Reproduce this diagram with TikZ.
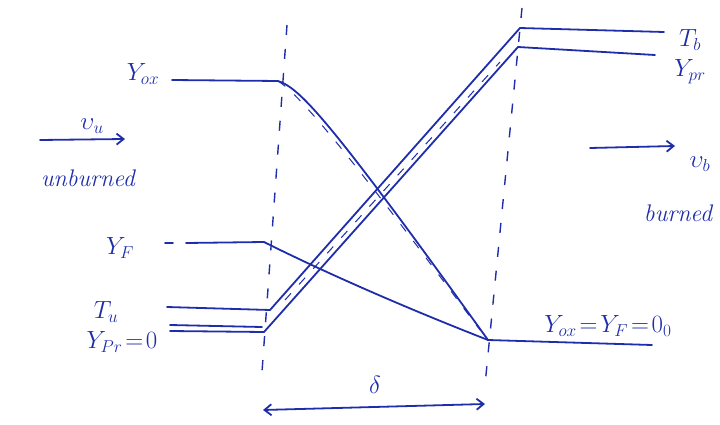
\documentclass[tikz,border=0pt]{standalone}
\usetikzlibrary{arrows.meta}
\definecolor{ink}{RGB}{30,45,170}
\begin{document}
\begin{tikzpicture}[x=1pt,y=-1pt,
  pen/.style={draw=ink,line width=1.8pt,line cap=round,line join=round},
  guide/.style={draw=ink,line width=1.4pt,dash pattern=on 10pt off 14pt},
  faint/.style={draw=ink,line width=1pt,dash pattern=on 9pt off 12pt},
  lbl/.style={text=ink,font=\fontsize{26}{28}\selectfont,inner sep=1pt},
  word/.style={text=ink,font=\fontsize{24}{26}\selectfont\itshape,inner sep=1pt},
  arr/.style={pen,-{Straight Barb[length=7pt,width=11pt]}}]
\useasboundingbox (0,0) rectangle (720,425);
% boundaries of the flame zone
\coordinate (L1) at (287,25); \coordinate (L2) at (262,372);
\coordinate (R1) at (522,8);  \coordinate (R2) at (485,385);
\draw[guide] (L1) -- (L2);
\draw[guide] (R1) -- (R2);
% key points
\coordinate (ox0) at (172,80);  \coordinate (ox1) at (278,81);
\coordinate (f0)  at (186,243); \coordinate (f1)  at (264,242);
\coordinate (tu0) at (167,307); \coordinate (tu1) at (270,310);
\coordinate (pr0) at (170,331); \coordinate (pr1) at (264,332);
\coordinate (tb1) at (520,28);  \coordinate (tb2) at (664,32);
\coordinate (pb1) at (518,47);  \coordinate (pb2) at (655,55);
\coordinate (z0)  at (488,340); \coordinate (z1)  at (652,345);
% profiles
\draw[pen] (ox0) -- (ox1) .. controls (300,88) and (330,120) .. (z0);
\draw[pen] (165,243) -- (173,243);
\draw[pen] (f0) -- (f1) .. controls (280,250) and (360,290) .. (z0);
\draw[pen] (z0) -- (z1);
\draw[pen] (tu0) -- (tu1) -- (tb1) -- (tb2);
\draw[pen] (pr0) -- (pr1) -- (pb1) -- (pb2);
\draw[pen] (170,325) -- (262,327);
% real (smoothed) profiles, dashed
\draw[faint] (ox1) .. controls (310,100) and (420,250) .. (480,330);
\draw[faint] (285,300) -- (500,62);
% labels
\node[lbl] (Yox) at (143,74) {$Y_{ox}$};
\node[lbl] (vu)  at (92,126) {$\upsilon_u$};
\coordinate (au0) at (40,140); \coordinate (au1) at (125,139);
\draw[arr] (au0) -- (au1);
\node[word] (unb) at (88,178) {unburned};
\node[lbl] (YF)  at (120,248) {$Y_F$};
\node[lbl] (Tu)  at (106,312) {$T_u$};
\node[lbl] (Ypr0) at (122,342) {$Y_{Pr}\!=\!0$};
\node[lbl] (Tb)  at (690,40) {$T_b$};
\node[lbl] (Ypr) at (690,72) {$Y_{pr}$};
\coordinate (ab0) at (590,148); \coordinate (ab1) at (675,146);
\draw[arr] (ab0) -- (ab1);
\node[lbl] (vb)  at (700,164) {$\upsilon_b$};
\node[word] (bur) at (678,213) {burned};
\node[lbl] (zero) at (608,326) {$Y_{ox}\!=\!Y_F\!=\!0_{0}$};
\node[lbl] (del) at (375,385) {$\delta$};
\coordinate (d0) at (263,410); \coordinate (d1) at (485,404);
\draw[pen,{Straight Barb[length=7pt,width=11pt]}-{Straight Barb[length=7pt,width=11pt]}] (d0) -- (d1);
\end{tikzpicture}
\end{document}
